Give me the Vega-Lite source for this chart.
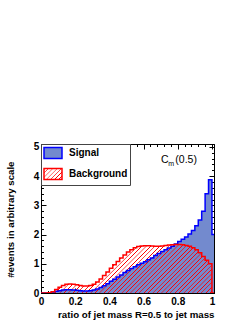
{
  "$schema": "https://vega.github.io/schema/vega-lite/v6.json",
  "width": 173,
  "height": 149,
  "autosize": {"type": "none"},
  "padding": {"left": 41, "top": 144, "right": 35, "bottom": 30},
  "background": "white",
  "config": {
    "view": {"stroke": null},
    "font": "Liberation Sans",
    "axis": {
      "zindex": 1, "grid": false, "domainColor": "black", "domainWidth": 1,
      "tickColor": "black", "tickWidth": 1, "labelFlush": false,
      "labelFont": "Liberation Sans", "labelFontWeight": "bold", "labelFontSize": 10, "labelColor": "black",
      "titleFont": "Liberation Sans", "titleFontWeight": "bold", "titleFontSize": 9.7, "titleColor": "black"
    },
    "legend": {
      "orient": "top-left", "offset": 0, "padding": 2, "rowPadding": 3,
      "symbolType": "M-1.5,-0.9H1.5V0.9H-1.5Z", "symbolSize": 144, "symbolOffset": 3,
      "symbolStrokeWidth": 1.5, "labelOffset": 9,
      "labelFont": "Liberation Sans", "labelFontWeight": "bold", "labelFontSize": 10, "labelColor": "black",
      "fillColor": "white", "strokeColor": "#444", "strokeWidth": 1
    }
  },
  "data": {"values": [
    {"x": 0, "s": 0, "b": 0},
    {"x": 0.02, "s": 0, "b": 0},
    {"x": 0.04, "s": 0.01, "b": 0.01},
    {"x": 0.06, "s": 0.03, "b": 0.04},
    {"x": 0.08, "s": 0.06, "b": 0.12},
    {"x": 0.1, "s": 0.08, "b": 0.2},
    {"x": 0.12, "s": 0.1, "b": 0.26},
    {"x": 0.14, "s": 0.11, "b": 0.3},
    {"x": 0.16, "s": 0.11, "b": 0.31},
    {"x": 0.18, "s": 0.1, "b": 0.3},
    {"x": 0.2, "s": 0.09, "b": 0.28},
    {"x": 0.22, "s": 0.08, "b": 0.26},
    {"x": 0.24, "s": 0.07, "b": 0.24},
    {"x": 0.26, "s": 0.07, "b": 0.24},
    {"x": 0.28, "s": 0.08, "b": 0.26},
    {"x": 0.3, "s": 0.1, "b": 0.3},
    {"x": 0.32, "s": 0.14, "b": 0.38},
    {"x": 0.34, "s": 0.19, "b": 0.48},
    {"x": 0.36, "s": 0.25, "b": 0.6},
    {"x": 0.38, "s": 0.32, "b": 0.72},
    {"x": 0.4, "s": 0.4, "b": 0.85},
    {"x": 0.42, "s": 0.47, "b": 0.97},
    {"x": 0.44, "s": 0.55, "b": 1.08},
    {"x": 0.46, "s": 0.62, "b": 1.2},
    {"x": 0.48, "s": 0.7, "b": 1.3},
    {"x": 0.5, "s": 0.77, "b": 1.4},
    {"x": 0.52, "s": 0.84, "b": 1.48},
    {"x": 0.54, "s": 0.9, "b": 1.55},
    {"x": 0.56, "s": 0.97, "b": 1.59},
    {"x": 0.58, "s": 1.02, "b": 1.61},
    {"x": 0.6, "s": 1.07, "b": 1.62},
    {"x": 0.62, "s": 1.14, "b": 1.62},
    {"x": 0.64, "s": 1.2, "b": 1.61},
    {"x": 0.66, "s": 1.28, "b": 1.6},
    {"x": 0.68, "s": 1.35, "b": 1.6},
    {"x": 0.7, "s": 1.42, "b": 1.61},
    {"x": 0.72, "s": 1.48, "b": 1.63},
    {"x": 0.74, "s": 1.54, "b": 1.64},
    {"x": 0.76, "s": 1.6, "b": 1.65},
    {"x": 0.78, "s": 1.68, "b": 1.66},
    {"x": 0.8, "s": 1.76, "b": 1.66},
    {"x": 0.82, "s": 1.84, "b": 1.65},
    {"x": 0.84, "s": 1.92, "b": 1.63},
    {"x": 0.86, "s": 2.02, "b": 1.6},
    {"x": 0.88, "s": 2.14, "b": 1.55},
    {"x": 0.9, "s": 2.3, "b": 1.48},
    {"x": 0.92, "s": 2.5, "b": 1.38},
    {"x": 0.94, "s": 2.8, "b": 1.25},
    {"x": 0.96, "s": 3.4, "b": 1.12},
    {"x": 0.98, "s": 3.88, "b": 1.0},
    {"x": 1.0, "s": 2.0, "b": 0},
    {"x": 1.012, "s": 2.0, "b": 0}
  ]},
  "layer": [
    {
      "mark": {"type": "area", "interpolate": "step-after", "fill": "#738ace", "clip": true},
      "encoding": {
        "x": {"field": "x", "type": "quantitative",
          "scale": {"domain": [0, 1.012], "nice": false, "zero": false},
          "axis": {"orient": "bottom", "values": [0, 0.2, 0.4, 0.6, 0.8, 1], "format": "~g",
            "tickSize": -5, "labelPadding": 8.6,
            "title": "ratio of jet mass R=0.5 to jet mass",
            "titleX": 173, "titleY": 24.3, "titleAlign": "right", "titleBaseline": "alphabetic", "titleAnchor": null}},
        "y": {"field": "s", "type": "quantitative",
          "scale": {"domain": [0, 5.1], "nice": false},
          "axis": {"orient": "left", "values": [0, 1, 2, 3, 4, 5], "format": "d",
            "tickSize": -5, "labelPadding": 7.3,
            "title": "#events in arbitrary scale", "titleAngle": -90,
            "titleX": -31, "titleY": 17, "titleAlign": "right", "titleBaseline": "middle", "titleAnchor": null}}
      }
    },
    {
      "mark": {"type": "area", "interpolate": "step-after", "clip": true,
        "fill": {"gradient": "linear", "x1": 0, "y1": 0, "x2": 1.187, "y2": 0.333, "stops": [
          {"offset": 0, "color": "rgba(255,0,0,0)"}, {"offset": 0.002, "color": "#f00"}, {"offset": 0.004, "color": "#f00"}, {"offset": 0.006, "color": "rgba(255,0,0,0)"},
          {"offset": 0.02, "color": "rgba(255,0,0,0)"}, {"offset": 0.022, "color": "#f00"}, {"offset": 0.024, "color": "#f00"}, {"offset": 0.026, "color": "rgba(255,0,0,0)"},
          {"offset": 0.04, "color": "rgba(255,0,0,0)"}, {"offset": 0.042, "color": "#f00"}, {"offset": 0.044, "color": "#f00"}, {"offset": 0.046, "color": "rgba(255,0,0,0)"},
          {"offset": 0.06, "color": "rgba(255,0,0,0)"}, {"offset": 0.062, "color": "#f00"}, {"offset": 0.064, "color": "#f00"}, {"offset": 0.066, "color": "rgba(255,0,0,0)"},
          {"offset": 0.08, "color": "rgba(255,0,0,0)"}, {"offset": 0.082, "color": "#f00"}, {"offset": 0.084, "color": "#f00"}, {"offset": 0.086, "color": "rgba(255,0,0,0)"},
          {"offset": 0.1, "color": "rgba(255,0,0,0)"}, {"offset": 0.102, "color": "#f00"}, {"offset": 0.104, "color": "#f00"}, {"offset": 0.106, "color": "rgba(255,0,0,0)"},
          {"offset": 0.12, "color": "rgba(255,0,0,0)"}, {"offset": 0.122, "color": "#f00"}, {"offset": 0.124, "color": "#f00"}, {"offset": 0.126, "color": "rgba(255,0,0,0)"},
          {"offset": 0.14, "color": "rgba(255,0,0,0)"}, {"offset": 0.142, "color": "#f00"}, {"offset": 0.144, "color": "#f00"}, {"offset": 0.146, "color": "rgba(255,0,0,0)"},
          {"offset": 0.16, "color": "rgba(255,0,0,0)"}, {"offset": 0.162, "color": "#f00"}, {"offset": 0.164, "color": "#f00"}, {"offset": 0.166, "color": "rgba(255,0,0,0)"},
          {"offset": 0.18, "color": "rgba(255,0,0,0)"}, {"offset": 0.182, "color": "#f00"}, {"offset": 0.184, "color": "#f00"}, {"offset": 0.186, "color": "rgba(255,0,0,0)"},
          {"offset": 0.2, "color": "rgba(255,0,0,0)"}, {"offset": 0.202, "color": "#f00"}, {"offset": 0.204, "color": "#f00"}, {"offset": 0.206, "color": "rgba(255,0,0,0)"},
          {"offset": 0.22, "color": "rgba(255,0,0,0)"}, {"offset": 0.222, "color": "#f00"}, {"offset": 0.224, "color": "#f00"}, {"offset": 0.226, "color": "rgba(255,0,0,0)"},
          {"offset": 0.24, "color": "rgba(255,0,0,0)"}, {"offset": 0.242, "color": "#f00"}, {"offset": 0.244, "color": "#f00"}, {"offset": 0.246, "color": "rgba(255,0,0,0)"},
          {"offset": 0.26, "color": "rgba(255,0,0,0)"}, {"offset": 0.262, "color": "#f00"}, {"offset": 0.264, "color": "#f00"}, {"offset": 0.266, "color": "rgba(255,0,0,0)"},
          {"offset": 0.28, "color": "rgba(255,0,0,0)"}, {"offset": 0.282, "color": "#f00"}, {"offset": 0.284, "color": "#f00"}, {"offset": 0.286, "color": "rgba(255,0,0,0)"},
          {"offset": 0.3, "color": "rgba(255,0,0,0)"}, {"offset": 0.302, "color": "#f00"}, {"offset": 0.304, "color": "#f00"}, {"offset": 0.306, "color": "rgba(255,0,0,0)"},
          {"offset": 0.32, "color": "rgba(255,0,0,0)"}, {"offset": 0.322, "color": "#f00"}, {"offset": 0.324, "color": "#f00"}, {"offset": 0.326, "color": "rgba(255,0,0,0)"},
          {"offset": 0.34, "color": "rgba(255,0,0,0)"}, {"offset": 0.342, "color": "#f00"}, {"offset": 0.344, "color": "#f00"}, {"offset": 0.346, "color": "rgba(255,0,0,0)"},
          {"offset": 0.36, "color": "rgba(255,0,0,0)"}, {"offset": 0.362, "color": "#f00"}, {"offset": 0.364, "color": "#f00"}, {"offset": 0.366, "color": "rgba(255,0,0,0)"},
          {"offset": 0.38, "color": "rgba(255,0,0,0)"}, {"offset": 0.382, "color": "#f00"}, {"offset": 0.384, "color": "#f00"}, {"offset": 0.386, "color": "rgba(255,0,0,0)"},
          {"offset": 0.4, "color": "rgba(255,0,0,0)"}, {"offset": 0.402, "color": "#f00"}, {"offset": 0.404, "color": "#f00"}, {"offset": 0.406, "color": "rgba(255,0,0,0)"},
          {"offset": 0.42, "color": "rgba(255,0,0,0)"}, {"offset": 0.422, "color": "#f00"}, {"offset": 0.424, "color": "#f00"}, {"offset": 0.426, "color": "rgba(255,0,0,0)"},
          {"offset": 0.44, "color": "rgba(255,0,0,0)"}, {"offset": 0.442, "color": "#f00"}, {"offset": 0.444, "color": "#f00"}, {"offset": 0.446, "color": "rgba(255,0,0,0)"},
          {"offset": 0.46, "color": "rgba(255,0,0,0)"}, {"offset": 0.462, "color": "#f00"}, {"offset": 0.464, "color": "#f00"}, {"offset": 0.466, "color": "rgba(255,0,0,0)"},
          {"offset": 0.48, "color": "rgba(255,0,0,0)"}, {"offset": 0.482, "color": "#f00"}, {"offset": 0.484, "color": "#f00"}, {"offset": 0.486, "color": "rgba(255,0,0,0)"},
          {"offset": 0.5, "color": "rgba(255,0,0,0)"}, {"offset": 0.502, "color": "#f00"}, {"offset": 0.504, "color": "#f00"}, {"offset": 0.506, "color": "rgba(255,0,0,0)"},
          {"offset": 0.52, "color": "rgba(255,0,0,0)"}, {"offset": 0.522, "color": "#f00"}, {"offset": 0.524, "color": "#f00"}, {"offset": 0.526, "color": "rgba(255,0,0,0)"},
          {"offset": 0.54, "color": "rgba(255,0,0,0)"}, {"offset": 0.542, "color": "#f00"}, {"offset": 0.544, "color": "#f00"}, {"offset": 0.546, "color": "rgba(255,0,0,0)"},
          {"offset": 0.56, "color": "rgba(255,0,0,0)"}, {"offset": 0.562, "color": "#f00"}, {"offset": 0.564, "color": "#f00"}, {"offset": 0.566, "color": "rgba(255,0,0,0)"},
          {"offset": 0.58, "color": "rgba(255,0,0,0)"}, {"offset": 0.582, "color": "#f00"}, {"offset": 0.584, "color": "#f00"}, {"offset": 0.586, "color": "rgba(255,0,0,0)"},
          {"offset": 0.6, "color": "rgba(255,0,0,0)"}, {"offset": 0.602, "color": "#f00"}, {"offset": 0.604, "color": "#f00"}, {"offset": 0.606, "color": "rgba(255,0,0,0)"},
          {"offset": 0.62, "color": "rgba(255,0,0,0)"}, {"offset": 0.622, "color": "#f00"}, {"offset": 0.624, "color": "#f00"}, {"offset": 0.626, "color": "rgba(255,0,0,0)"},
          {"offset": 0.64, "color": "rgba(255,0,0,0)"}, {"offset": 0.642, "color": "#f00"}, {"offset": 0.644, "color": "#f00"}, {"offset": 0.646, "color": "rgba(255,0,0,0)"},
          {"offset": 0.66, "color": "rgba(255,0,0,0)"}, {"offset": 0.662, "color": "#f00"}, {"offset": 0.664, "color": "#f00"}, {"offset": 0.666, "color": "rgba(255,0,0,0)"},
          {"offset": 0.68, "color": "rgba(255,0,0,0)"}, {"offset": 0.682, "color": "#f00"}, {"offset": 0.684, "color": "#f00"}, {"offset": 0.686, "color": "rgba(255,0,0,0)"},
          {"offset": 0.7, "color": "rgba(255,0,0,0)"}, {"offset": 0.702, "color": "#f00"}, {"offset": 0.704, "color": "#f00"}, {"offset": 0.706, "color": "rgba(255,0,0,0)"},
          {"offset": 0.72, "color": "rgba(255,0,0,0)"}, {"offset": 0.722, "color": "#f00"}, {"offset": 0.724, "color": "#f00"}, {"offset": 0.726, "color": "rgba(255,0,0,0)"},
          {"offset": 0.74, "color": "rgba(255,0,0,0)"}, {"offset": 0.742, "color": "#f00"}, {"offset": 0.744, "color": "#f00"}, {"offset": 0.746, "color": "rgba(255,0,0,0)"},
          {"offset": 0.76, "color": "rgba(255,0,0,0)"}, {"offset": 0.762, "color": "#f00"}, {"offset": 0.764, "color": "#f00"}, {"offset": 0.766, "color": "rgba(255,0,0,0)"},
          {"offset": 0.78, "color": "rgba(255,0,0,0)"}, {"offset": 0.782, "color": "#f00"}, {"offset": 0.784, "color": "#f00"}, {"offset": 0.786, "color": "rgba(255,0,0,0)"},
          {"offset": 0.8, "color": "rgba(255,0,0,0)"}, {"offset": 0.802, "color": "#f00"}, {"offset": 0.804, "color": "#f00"}, {"offset": 0.806, "color": "rgba(255,0,0,0)"},
          {"offset": 0.82, "color": "rgba(255,0,0,0)"}, {"offset": 0.822, "color": "#f00"}, {"offset": 0.824, "color": "#f00"}, {"offset": 0.826, "color": "rgba(255,0,0,0)"},
          {"offset": 0.84, "color": "rgba(255,0,0,0)"}, {"offset": 0.842, "color": "#f00"}, {"offset": 0.844, "color": "#f00"}, {"offset": 0.846, "color": "rgba(255,0,0,0)"},
          {"offset": 0.86, "color": "rgba(255,0,0,0)"}, {"offset": 0.862, "color": "#f00"}, {"offset": 0.864, "color": "#f00"}, {"offset": 0.866, "color": "rgba(255,0,0,0)"},
          {"offset": 0.88, "color": "rgba(255,0,0,0)"}, {"offset": 0.882, "color": "#f00"}, {"offset": 0.884, "color": "#f00"}, {"offset": 0.886, "color": "rgba(255,0,0,0)"},
          {"offset": 0.9, "color": "rgba(255,0,0,0)"}, {"offset": 0.902, "color": "#f00"}, {"offset": 0.904, "color": "#f00"}, {"offset": 0.906, "color": "rgba(255,0,0,0)"},
          {"offset": 0.92, "color": "rgba(255,0,0,0)"}, {"offset": 0.922, "color": "#f00"}, {"offset": 0.924, "color": "#f00"}, {"offset": 0.926, "color": "rgba(255,0,0,0)"},
          {"offset": 0.94, "color": "rgba(255,0,0,0)"}, {"offset": 0.942, "color": "#f00"}, {"offset": 0.944, "color": "#f00"}, {"offset": 0.946, "color": "rgba(255,0,0,0)"},
          {"offset": 0.96, "color": "rgba(255,0,0,0)"}, {"offset": 0.962, "color": "#f00"}, {"offset": 0.964, "color": "#f00"}, {"offset": 0.966, "color": "rgba(255,0,0,0)"},
          {"offset": 0.98, "color": "rgba(255,0,0,0)"}, {"offset": 0.982, "color": "#f00"}, {"offset": 0.984, "color": "#f00"}, {"offset": 0.986, "color": "rgba(255,0,0,0)"},
          {"offset": 1, "color": "rgba(255,0,0,0)"}
        ]}},
      "encoding": {
        "x": {"field": "x", "type": "quantitative",
          "scale": {"domain": [0, 1.012], "nice": false, "zero": false},
          "axis": {"orient": "bottom", "values": [0, 0.04, 0.08, 0.12, 0.16, 0.2, 0.24, 0.28, 0.32, 0.36, 0.4, 0.44, 0.48, 0.52, 0.56, 0.6, 0.64, 0.68, 0.72, 0.76, 0.8, 0.84, 0.88, 0.92, 0.96, 1],
            "tickSize": -2.5, "labels": false, "title": null}},
        "y": {"field": "b", "type": "quantitative",
          "scale": {"domain": [0, 5.1], "nice": false},
          "axis": {"orient": "left", "values": [0, 0.2, 0.4, 0.6, 0.8, 1, 1.2, 1.4, 1.6, 1.8, 2, 2.2, 2.4, 2.6, 2.8, 3, 3.2, 3.4, 3.6, 3.8, 4, 4.2, 4.4, 4.6, 4.8, 5],
            "tickSize": -2.5, "labels": false, "title": null}}
      }
    },
    {
      "mark": {"type": "line", "interpolate": "step-after", "strokeWidth": 1.5, "clip": true},
      "encoding": {
        "x": {"field": "x", "type": "quantitative",
          "scale": {"domain": [0, 1.012], "nice": false, "zero": false},
          "axis": {"orient": "top", "values": [0, 0.2, 0.4, 0.6, 0.8, 1], "tickSize": -5, "labels": false, "title": null}},
        "y": {"field": "s", "type": "quantitative",
          "scale": {"domain": [0, 5.1], "nice": false},
          "axis": {"orient": "right", "values": [0, 1, 2, 3, 4, 5], "tickSize": -5, "labels": false, "title": null}},
        "stroke": {"datum": "Signal",
          "scale": {"domain": ["Signal", "Background"], "range": ["#0000ff", "#ff0000"]},
          "legend": {"title": null,
            "encode": {"symbols": {"update": {
              "fill": [
                {"test": "datum.value === 'Signal'", "value": "#738ace"},
                {"value": {"gradient": "linear", "x1": 0, "y1": 0, "x2": 1.177, "y2": 0.706, "stops": [
                  {"offset": 0, "color": "rgba(255,0,0,0)"}, {"offset": 0.014, "color": "#f00"}, {"offset": 0.029, "color": "#f00"}, {"offset": 0.043, "color": "rgba(255,0,0,0)"},
                  {"offset": 0.143, "color": "rgba(255,0,0,0)"}, {"offset": 0.157, "color": "#f00"}, {"offset": 0.172, "color": "#f00"}, {"offset": 0.186, "color": "rgba(255,0,0,0)"},
                  {"offset": 0.286, "color": "rgba(255,0,0,0)"}, {"offset": 0.3, "color": "#f00"}, {"offset": 0.315, "color": "#f00"}, {"offset": 0.329, "color": "rgba(255,0,0,0)"},
                  {"offset": 0.429, "color": "rgba(255,0,0,0)"}, {"offset": 0.443, "color": "#f00"}, {"offset": 0.458, "color": "#f00"}, {"offset": 0.472, "color": "rgba(255,0,0,0)"},
                  {"offset": 0.571, "color": "rgba(255,0,0,0)"}, {"offset": 0.585, "color": "#f00"}, {"offset": 0.6, "color": "#f00"}, {"offset": 0.614, "color": "rgba(255,0,0,0)"},
                  {"offset": 0.714, "color": "rgba(255,0,0,0)"}, {"offset": 0.728, "color": "#f00"}, {"offset": 0.743, "color": "#f00"}, {"offset": 0.757, "color": "rgba(255,0,0,0)"},
                  {"offset": 0.857, "color": "rgba(255,0,0,0)"}, {"offset": 0.871, "color": "#f00"}, {"offset": 0.886, "color": "#f00"}, {"offset": 0.9, "color": "rgba(255,0,0,0)"},
                  {"offset": 1, "color": "rgba(255,0,0,0)"}
                ]}}
              ],
              "fillOpacity": {"value": 1},
              "strokeWidth": {"value": 1.5}
            }}}
          }}
      }
    },
    {
      "mark": {"type": "line", "interpolate": "step-after", "strokeWidth": 1.5, "clip": true},
      "encoding": {
        "x": {"field": "x", "type": "quantitative",
          "scale": {"domain": [0, 1.012], "nice": false, "zero": false},
          "axis": {"orient": "top", "values": [0, 0.04, 0.08, 0.12, 0.16, 0.2, 0.24, 0.28, 0.32, 0.36, 0.4, 0.44, 0.48, 0.52, 0.56, 0.6, 0.64, 0.68, 0.72, 0.76, 0.8, 0.84, 0.88, 0.92, 0.96, 1],
            "tickSize": -2.5, "labels": false, "title": null}},
        "y": {"field": "b", "type": "quantitative",
          "scale": {"domain": [0, 5.1], "nice": false},
          "axis": {"orient": "right", "values": [0, 0.2, 0.4, 0.6, 0.8, 1, 1.2, 1.4, 1.6, 1.8, 2, 2.2, 2.4, 2.6, 2.8, 3, 3.2, 3.4, 3.6, 3.8, 4, 4.2, 4.4, 4.6, 4.8, 5],
            "tickSize": -2.5, "labels": false, "title": null}},
        "stroke": {"datum": "Background"}
      }
    },
    {
      "data": {"values": [{"t": "C"}]},
      "mark": {"type": "text", "align": "left", "baseline": "middle", "fontSize": 10.5, "font": "Liberation Sans", "fontWeight": "normal", "color": "black"},
      "encoding": {
        "x": {"datum": 0.702, "type": "quantitative", "axis": null},
        "y": {"datum": 4.555, "type": "quantitative", "axis": null},
        "text": {"field": "t"}
      }
    },
    {
      "data": {"values": [{"t": "m"}]},
      "mark": {"type": "text", "align": "left", "baseline": "middle", "fontSize": 7, "font": "Liberation Sans", "fontWeight": "normal", "color": "black"},
      "encoding": {
        "x": {"datum": 0.745, "type": "quantitative", "axis": null},
        "y": {"datum": 4.42, "type": "quantitative", "axis": null},
        "text": {"field": "t"}
      }
    },
    {
      "data": {"values": [{"t": "(0.5)"}]},
      "mark": {"type": "text", "align": "left", "baseline": "middle", "fontSize": 10.5, "font": "Liberation Sans", "fontWeight": "normal", "color": "black"},
      "encoding": {
        "x": {"datum": 0.786, "type": "quantitative", "axis": null},
        "y": {"datum": 4.555, "type": "quantitative", "axis": null},
        "text": {"field": "t"}
      }
    }
  ],
  "resolve": {"axis": {"x": "independent", "y": "independent"}}
}
